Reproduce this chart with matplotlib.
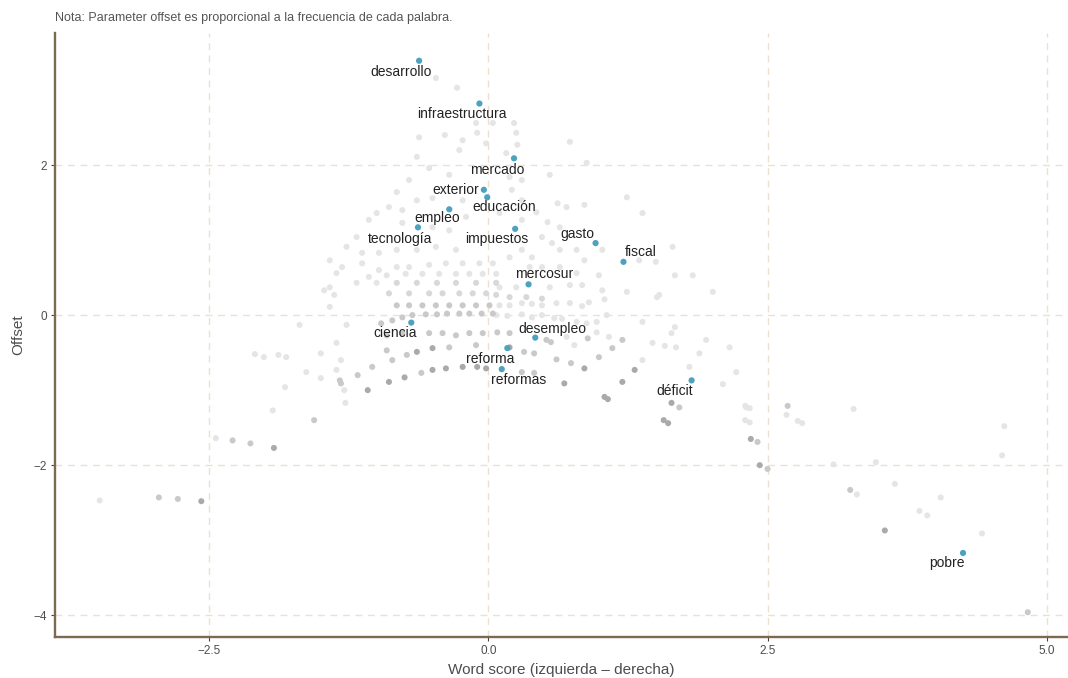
import matplotlib
matplotlib.use("Agg")
import matplotlib.pyplot as plt

# ---------------- data ----------------
# highlighted words: word score (x) and offset (y)
words = ["desarrollo", "infraestructura", "mercado", "exterior", "educación",
         "empleo", "tecnología", "impuestos", "gasto", "fiscal", "mercosur",
         "ciencia", "desempleo", "reforma", "reformas", "déficit", "pobre"]
word_x = [-0.62, -0.08, 0.23, -0.04, -0.01, -0.35, -0.63, 0.24, 0.96, 1.21,
          0.36, -0.69, 0.42, 0.17, 0.12, 1.82, 4.25]
word_y = [3.39, 2.82, 2.09, 1.67, 1.57, 1.41, 1.17, 1.15, 0.96, 0.71,
          0.41, -0.10, -0.30, -0.44, -0.72, -0.87, -3.17]

# background words, grouped by shade
dark_x = [-2.57, -1.92, -1.08, -0.89, -0.75, -0.64, -0.50, -0.50, -0.38, -0.23,
          -0.10, -0.02, 0.19, 0.68, 0.86, 1.04, 1.07, 1.20, 1.31, 1.57, 1.61,
          1.64, 2.35, 2.43, 3.55]
dark_y = [-2.48, -1.77, -1.00, -0.89, -0.83, -0.49, -0.44, -0.73, -0.71, -0.69,
          -0.69, -0.71, -0.43, -0.91, -0.71, -1.09, -1.12, -0.89, -0.73, -1.40, -1.44,
          -1.17, -1.65, -2.00, -2.87]

mid_x = [-2.95, -2.78, -2.29, -2.13, -1.56, -1.32, -1.33, -1.17, -1.04, -0.91,
         -0.86, -0.73, -0.60, -0.35, -0.11, -0.91, -0.77, -0.53, -0.41, -0.29,
         -0.17, -0.05, -0.96, -0.86, -0.77, -0.68, -0.56, -0.46, -0.37, -0.26,
         -0.17, -0.06, 0.04, 0.08, 0.19, 0.52, 0.56, 0.89, 1.20, 0.32, 0.41,
         0.61, 0.74, 0.99, 1.11, 0.30, 0.41, 1.71, 2.41, 2.50, 3.24, 4.83, 2.68,
         -0.82, -0.71, -0.59, -0.47, -0.35, -0.23, -0.11, 0.01]
mid_y = [-2.43, -2.45, -1.67, -1.71, -1.40, -0.91, -0.87, -0.80, -0.69, -0.47,
         -0.60, -0.53, -0.77, -0.43, -0.40, -0.27, -0.24, -0.24, -0.24, -0.27,
         -0.24, -0.24, -0.11, -0.07, -0.03, 0.00, 0.01, 0.01, 0.02, 0.02,
         0.02, 0.02, 0.02, -0.23, -0.24, -0.33, -0.36, -0.31, -0.33, -0.49, -0.51,
         -0.59, -0.64, -0.56, -0.44, -0.76, -0.77, -1.23, -1.69, -2.05, -2.33, -3.96, -1.21,
         0.13, 0.13, 0.13, 0.13, 0.13, 0.13, 0.13, 0.13]

pale_x = [-0.89, -0.71, -0.53, -0.41, -0.26, -0.14, -0.02, 0.07, 0.19, 0.34, 0.48,
          -0.82, -0.64, -0.46, -0.29, -0.11, 0.07]
pale_y = [0.29, 0.29, 0.29, 0.29, 0.29, 0.29, 0.29, 0.27, 0.24, 0.24, 0.22,
          0.43, 0.43, 0.43, 0.43, 0.43, 0.43]

light_x = [-3.48, -2.44, -1.93, -1.82, -1.28, -2.09, -2.01, -1.88, -1.81, -1.69,
           -1.63, -1.50, -1.50, -1.36, -1.29, -1.32, -1.36, -1.42, -1.27,
           0.10, 0.19, 0.30, 0.39, 0.48, 0.61, 0.73, 0.84, 0.90, 1.04, 1.51, 2.01,
           0.07, 0.17, 0.30, 0.39, 0.48, 0.59, 0.66, 0.79, 0.88, 0.97, 1.06,
           0.70, 0.77, 0.97, 1.08, 1.38, 1.38, 1.47, 1.58, 1.64, 1.67, 1.68, 1.80,
           1.89, 1.95, 2.16, 2.22, 2.31,
           2.10, 2.30, 2.34, 2.30, 2.34, 2.67, 2.77, 2.81, 3.27, 3.09, 3.47, 3.30,
           3.64, 3.86, 3.93, 4.05, 4.42, 4.62, 4.60,
           -0.62, -0.39, -0.23, -0.26, -0.64, -0.10, -0.02, -0.53, -0.35, -0.71,
           -0.82, -0.64, -0.50, -0.89, -1.00, -1.07, -0.77, -0.23, -0.20, -0.35,
           -0.50, -0.77, -1.18, -1.27, -1.13, -0.98, -0.82, -0.64, -0.47, -0.29,
           -1.42, -1.31, -1.13, -0.98, -0.82, -0.71, -0.53, -0.38, -0.23, -0.08, 0.04,
           -1.07, -0.91, -0.74, -0.59, -0.44, -0.29, -0.17, -0.05, 0.07,
           -1.42, -1.18, -1.00, -1.36, -1.47, -1.38,
           -0.47, -0.28, 0.04, -0.11,
           0.23, 0.25, 0.26, 0.16, 0.73, 0.88, 0.30, 0.55, 0.19, 0.21, 0.30, 0.10,
           0.30, 0.43, 0.62, 0.70, 0.86, 1.24, 1.38, 0.53, 0.64, 0.48, 0.57, 0.64,
           0.79, 0.86, 1.02, 0.30, 0.39, 0.19, 0.37, 0.48, 0.64, 0.79, 0.99, 1.65,
           1.67, 1.83, 1.50, 1.35, 0.73, 0.84, 0.55, 0.25, 0.10, 1.02, 1.24, 1.53]
light_y = [-2.47, -1.64, -1.27, -0.96, -1.17, -0.52, -0.56, -0.53, -0.56, -0.13,
           -0.76, -0.51, -0.84, -0.73, -1.00, -0.60, -0.37, 0.11, -0.13,
           0.13, 0.13, 0.16, 0.15, 0.13, 0.16, 0.16, 0.12, 0.17, 0.21, 0.24, 0.31,
           0.00, -0.01, 0.01, -0.03, 0.00, -0.04, -0.05, -0.09, -0.11, -0.09, 0.00,
           -0.29, -0.40, -0.23, -0.29, -0.09, -0.60, -0.37, -0.41, -0.24, -0.16, -0.43, -0.69,
           -0.51, -0.33, -0.43, -0.76, -1.23,
           -0.92, -1.21, -1.24, -1.40, -1.43, -1.33, -1.41, -1.44, -1.25, -1.99, -1.96, -2.39,
           -2.25, -2.61, -2.67, -2.43, -2.91, -1.48, -1.87,
           2.37, 2.40, 2.33, 2.20, 2.11, 2.43, 2.29, 1.96, 1.87, 1.80,
           1.64, 1.53, 1.56, 1.44, 1.36, 1.27, 1.40, 1.53, 1.31, 1.13,
           1.17, 1.23, 1.04, 0.91, 0.83, 0.83, 0.87, 0.87, 0.91, 0.87,
           0.73, 0.64, 0.69, 0.60, 0.64, 0.64, 0.67, 0.69, 0.69, 0.69, 0.69,
           0.51, 0.53, 0.55, 0.55, 0.55, 0.55, 0.55, 0.55, 0.55,
           0.37, 0.43, 0.43, 0.56, 0.33, 0.27,
           3.16, 3.03, 2.56, 2.56,
           2.56, 2.43, 2.27, 2.16, 2.31, 2.03, 1.80, 1.87, 1.84, 1.67, 1.53, 1.36,
           1.27, 1.37, 1.49, 1.44, 1.47, 1.57, 1.36, 1.24, 1.17, 1.04, 0.96, 0.87,
           0.87, 0.73, 0.87, 0.87, 0.77, 0.77, 0.64, 0.64, 0.64, 0.56, 0.53, 0.91,
           0.53, 0.53, 0.71, 0.73, 0.40, 0.40, 0.37, 0.37, 0.37, 0.33, 0.31, 0.27]

x_ticks = [-2.5, 0.0, 2.5, 5.0]
x_ticklabels = ["\u22122.5", "0.0", "2.5", "5.0"]
y_ticks = [-4, -2, 0, 2]
y_ticklabels = ["\u22124", "\u22122", "0", "2"]

title_text = "Nota: Parameter offset es proporcional a la frecuencia de cada palabra."
x_label = "Word score (izquierda \u2013 derecha)"
y_label = "Offset"

# label offsets (points) relative to each highlighted word
label_offsets = [(-13.2, -7.9), (-12.7, -7.7), (-12.2, -8.4), (-20.5, 0.0),
                 (12.1, -6.8), (-9.0, -6.0), (-13.1, -8.6), (-12.9, -7.2),
                 (-13.0, 6.7), (12.1, 7.2), (11.5, 7.2), (-11.5, -7.7),
                 (12.0, 6.5), (-12.7, -7.7), (12.5, -7.9), (-12.5, -7.7),
                 (-11.9, -7.2)]

# ---------------- plot ----------------
plt.rcParams['font.family'] = ['Liberation Sans', 'DejaVu Sans']

fig = plt.figure(figsize=(10.68, 6.78), dpi=100)
ax = fig.add_axes([55 / 1068, 1 - 637 / 678, (1068 - 55) / 1068, (637 - 33) / 678])

grid_col = "#ece1d1"
for xv in x_ticks:
    ax.axvline(xv, color=grid_col, lw=1.0, ls=(0, (5, 4)), zorder=0)
for yv in y_ticks:
    ax.axhline(yv, color=grid_col, lw=1.0, ls=(0, (5, 4)), zorder=0)

ms = 19
ax.scatter(light_x, light_y, s=ms, color="#e5e5e5", edgecolors="none", zorder=1)
ax.scatter(pale_x, pale_y, s=ms, color="#d8d8d8", edgecolors="none", zorder=2)
ax.scatter(mid_x, mid_y, s=ms, color="#c9c9c9", edgecolors="none", zorder=2)
ax.scatter(dark_x, dark_y, s=ms, color="#aaaaaa", edgecolors="none", zorder=3)
ax.scatter(word_x, word_y, s=20, color="#4da2bf", edgecolors="none", zorder=4)

for w, xv, yv, off in zip(words, word_x, word_y, label_offsets):
    ax.annotate(w, (xv, yv), xytext=off, textcoords="offset points",
                ha="center", va="center", fontsize=10, color="#222222", zorder=5)

ax.set_xlim(-3.88, 5.19)
ax.set_ylim(-4.29, 3.76)
ax.set_xticks(x_ticks)
ax.set_xticklabels(x_ticklabels)
ax.set_yticks(y_ticks)
ax.set_yticklabels(y_ticklabels)
ax.tick_params(axis="both", length=3, width=0.8, color="#444444",
               labelsize=8.5, labelcolor="#4d4d4d", pad=3)

for s in ["top", "right"]:
    ax.spines[s].set_visible(False)
for s in ["left", "bottom"]:
    ax.spines[s].set_color("#7d6850")
    ax.spines[s].set_linewidth(1.7)

ax.set_xlabel(x_label, fontsize=11, color="#4d4d4d", labelpad=4)
ax.set_ylabel(y_label, fontsize=11, color="#4d4d4d", labelpad=6)

fig.text(55 / 1068, 1 - 18 / 678, title_text, fontsize=9, color="#555555",
         ha="left", va="center")

fig.savefig("out.png", dpi=100)
